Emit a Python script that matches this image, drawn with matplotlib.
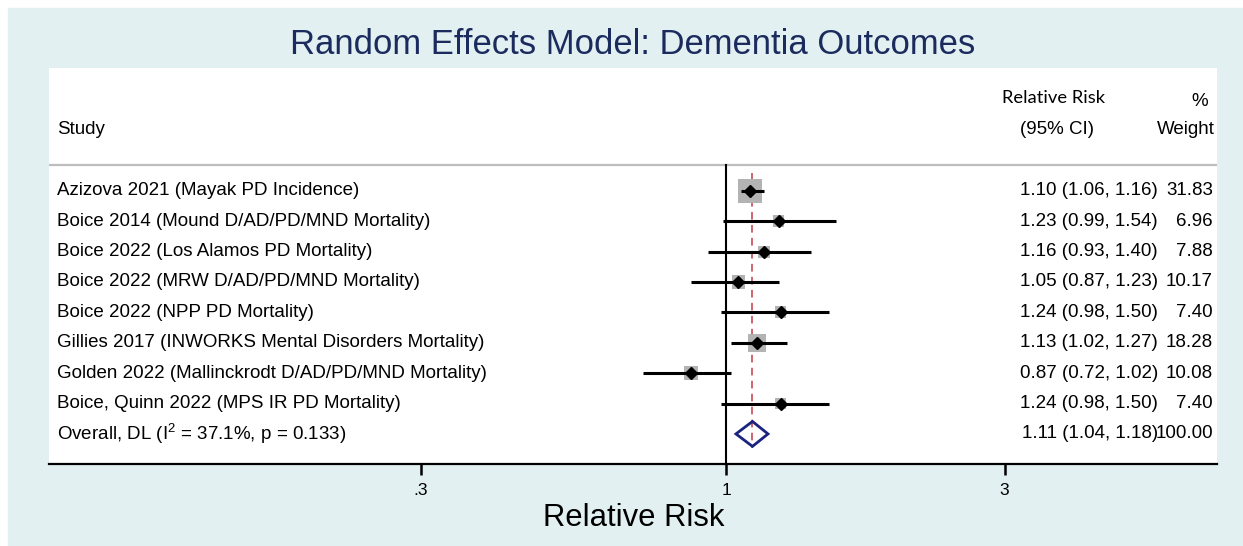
import matplotlib
matplotlib.use("Agg")
import numpy as np
import matplotlib.pyplot as plt
import matplotlib.transforms as mtransforms
from matplotlib.patches import Rectangle, Polygon

## data
studies = ["Azizova 2021 (Mayak PD Incidence)",
           "Boice 2014 (Mound D/AD/PD/MND Mortality)",
           "Boice 2022 (Los Alamos PD Mortality)",
           "Boice 2022 (MRW D/AD/PD/MND Mortality)",
           "Boice 2022 (NPP PD Mortality)",
           "Gillies 2017 (INWORKS Mental Disorders Mortality)",
           "Golden 2022 (Mallinckrodt D/AD/PD/MND Mortality)",
           "Boice, Quinn 2022 (MPS IR PD Mortality)"]
rr = [1.10, 1.23, 1.16, 1.05, 1.24, 1.13, 0.87, 1.24]
ci_lo = [1.06, 0.99, 0.93, 0.87, 0.98, 1.02, 0.72, 0.98]
ci_hi = [1.16, 1.54, 1.40, 1.23, 1.50, 1.27, 1.02, 1.50]
weight = [31.83, 6.96, 7.88, 10.17, 7.40, 18.28, 10.08, 7.40]

overall_label = "Overall, DL (I$^{2}$ = 37.1%, p = 0.133)"
overall_rr, overall_lo, overall_hi, overall_w = 1.11, 1.04, 1.18, 100.00

tick_vals = [0.3, 1, 3]
tick_labels = [".3", "1", "3"]

plt.rcParams['font.family'] = ['Liberation Sans', 'DejaVu Sans']
plt.rcParams['mathtext.fontset'] = 'custom'
plt.rcParams['mathtext.rm'] = 'Liberation Sans'
plt.rcParams['mathtext.it'] = 'Liberation Sans'

W, H = 1243, 546
teal = '#e2f0f1'
navy = '#1c2b5e'

fig = plt.figure(figsize=(W / 100, H / 100), dpi=100)
fig.patch.set_facecolor('white')
fig.patches.append(Rectangle((8 / W, 0), 1 - 8 / W, 1 - 8 / H,
                             transform=fig.transFigure, color=teal, zorder=-10))

## plot region (pixels: left 49, right 1217, top 68, bottom 464)
ax = fig.add_axes([49 / W, (H - 464) / H, (1217 - 49) / W, (464 - 68) / H])
ax.set_facecolor('white')
ax.set_xscale('log')
ax.set_xlim(0.0693, 6.93)
ax.set_ylim(8.99, -4.04)
for s in ['top', 'left', 'right']:
  ax.spines[s].set_visible(False)
ax.spines['bottom'].set_linewidth(1.6)
ax.set_yticks([])
ax.set_xticks(tick_vals)
ax.set_xticklabels(tick_labels, fontsize=12.5)
ax.xaxis.set_minor_locator(matplotlib.ticker.NullLocator())
ax.tick_params(axis='x', length=8, width=1.8, pad=6)

n = len(studies)
ypos = np.arange(n)
y_over = n

## separator and reference lines
ax.axhline(-0.85, color='#bdbdbd', lw=1.6, zorder=1)
ax.plot([1, 1], [-0.85, 8.99], color='black', lw=1.5, zorder=2)
ax.plot([overall_rr, overall_rr], [-0.58, y_over + 0.45], color='#c23b4a',
        lw=1.1, dashes=(5, 3.5), zorder=3)

## study rows
ax.scatter(rr, ypos, s=[9.6 * w for w in weight], marker='s',
           color='#b3b3b3', linewidths=0, zorder=4)
ax.hlines(ypos, ci_lo, ci_hi, color='black', lw=2.2, zorder=5)
ax.plot(rr, ypos, 'D', color='black', ms=6.3, zorder=6)

## overall diamond
dia = Polygon([[overall_lo, y_over], [overall_rr, y_over - 0.41],
               [overall_hi, y_over], [overall_rr, y_over + 0.41]],
              closed=True, fill=False, edgecolor='#1a237e', lw=2, zorder=5)
ax.add_patch(dia)

## text columns
trans = mtransforms.blended_transform_factory(ax.transAxes, ax.transData)
x_lab = (57 - 49) / 1168
x_ci = (1158 - 49) / 1168
x_w = (1213 - 49) / 1168

all_labels = studies + [overall_label]
all_rr = rr + [overall_rr]
all_lo = ci_lo + [overall_lo]
all_hi = ci_hi + [overall_hi]
all_w = weight + [overall_w]
for i in range(n + 1):
  ax.text(x_lab, i, all_labels[i], transform=trans, fontsize=13.5,
          ha='left', va='center')
  ax.text(x_ci, i, "%.2f (%.2f, %.2f)" % (all_rr[i], all_lo[i], all_hi[i]),
          transform=trans, fontsize=13.5, ha='right', va='center')
  ax.text(x_w, i, "%.2f" % all_w[i], transform=trans, fontsize=13.5,
          ha='right', va='center')

## header
ax.text(x_lab, -2.0, "Study", transform=trans, fontsize=13.5, ha='left', va='center')
ax.text((1054 - 49) / 1168, -3.05, "Relative Risk", transform=trans,
        fontsize=13.2, ha='center', va='center', family=['Lato', 'DejaVu Sans'])
ax.text((1200 - 49) / 1168, -2.95, "%", transform=trans, fontsize=13.5,
        ha='center', va='center')
ax.text((1057 - 49) / 1168, -2.0, "(95% CI)", transform=trans, fontsize=13.5,
        ha='center', va='center')
ax.text((1215 - 49) / 1168, -2.0, "Weight", transform=trans, fontsize=13.5,
        ha='right', va='center')

## title and axis title
fig.text(633 / W, 1 - 45 / H, "Random Effects Model: Dementia Outcomes",
         fontsize=24.9, color=navy, ha='center', va='center')
fig.text(634 / W, 1 - 518 / H, "Relative Risk", fontsize=22.3,
         ha='center', va='center')

fig.savefig("out.png", dpi=100, facecolor=fig.get_facecolor())
